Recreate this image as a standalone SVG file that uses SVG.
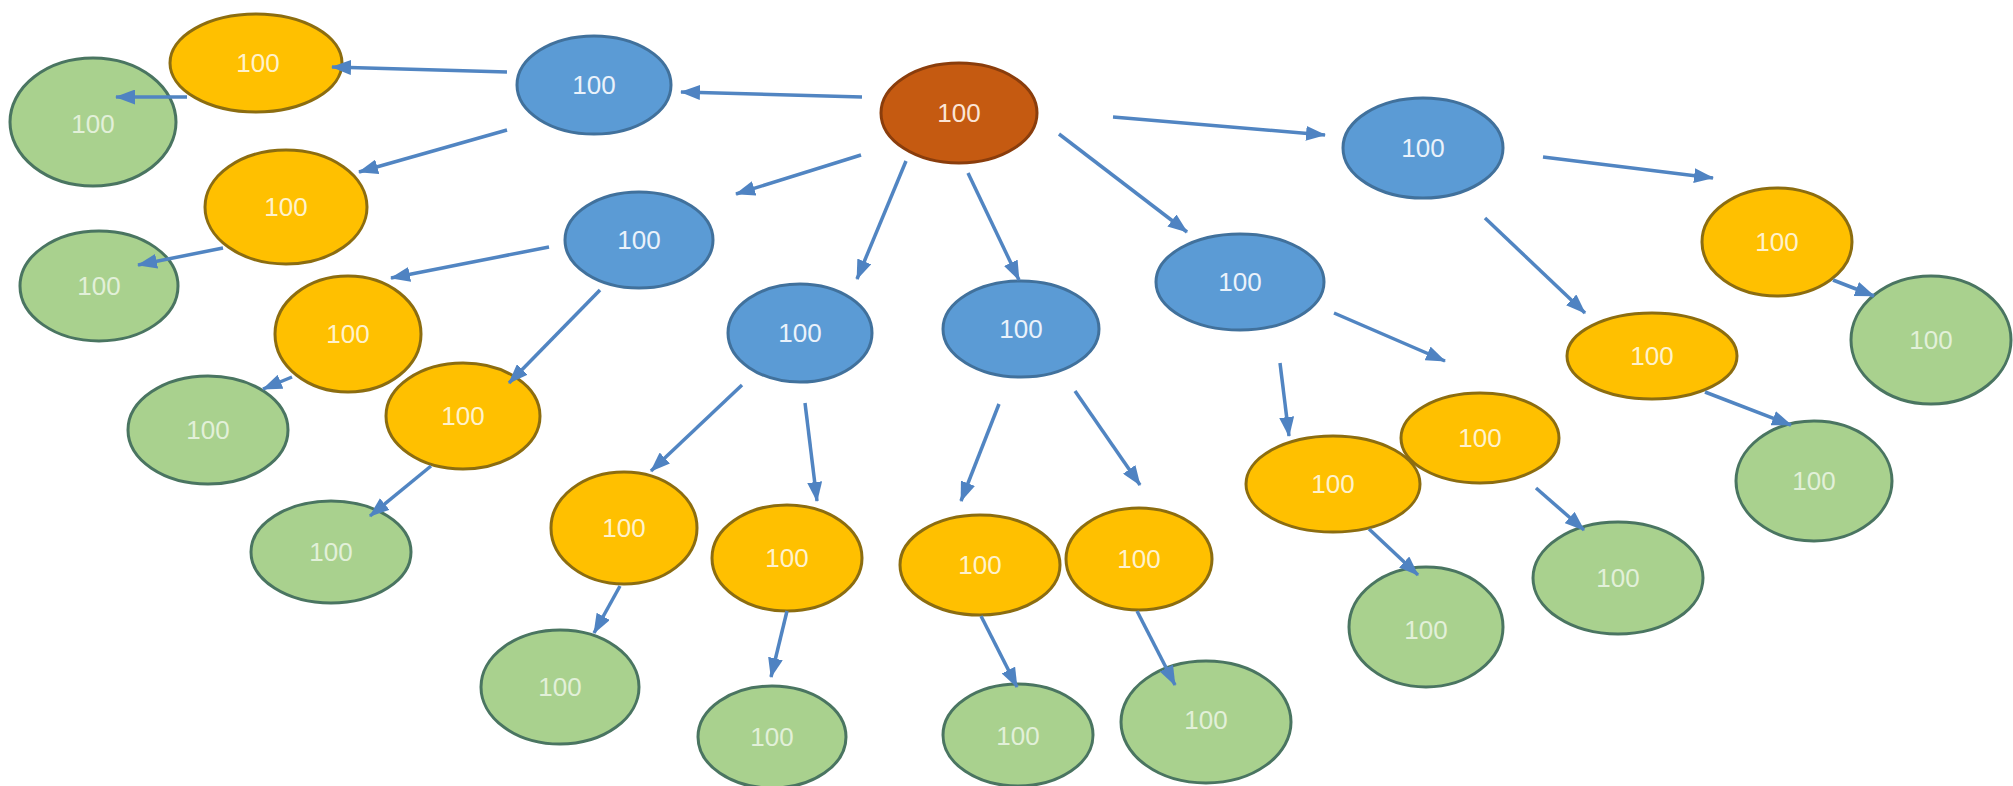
<svg xmlns="http://www.w3.org/2000/svg" width="2013" height="786" viewBox="0 0 2013 786">
<style>
.root ellipse{fill:#c55a11;stroke:#8a3d0c;stroke-width:3}
.blue ellipse{fill:#5b9bd5;stroke:#41719c;stroke-width:3}
.orange ellipse{fill:#ffc000;stroke:#8c6d10;stroke-width:3}
.green ellipse{fill:#a9d18e;stroke:#4a7561;stroke-width:3}
text{font-family:"Liberation Sans",Arial,sans-serif;font-size:26px;text-anchor:middle;dominant-baseline:central}
.root text{fill:#fbe5d6}
.blue text{fill:#eaf2fb}
.orange text{fill:#fff2cc}
.green text{fill:#e2f0d9}
.edges line{stroke:#5185c2;stroke-width:3.5;marker-end:url(#ah)}
</style>
<defs>
<marker id="ah" markerWidth="20" markerHeight="15" refX="19" refY="7.5" orient="auto" markerUnits="userSpaceOnUse">
<path d="M0,0 L20,7.5 L0,15 z" fill="#4f83c2"/>
</marker>
</defs>
<rect width="2013" height="786" fill="#ffffff"/>
<g id="nodes">
<g id="root" class="root"><ellipse cx="959" cy="113" rx="78" ry="50"/><text x="959" y="113">100</text></g>
<g id="b1" class="blue"><ellipse cx="594" cy="85" rx="77" ry="49"/><text x="594" y="85">100</text></g>
<g id="b2" class="blue"><ellipse cx="639" cy="240" rx="74" ry="48"/><text x="639" y="240">100</text></g>
<g id="b3" class="blue"><ellipse cx="800" cy="333" rx="72" ry="49"/><text x="800" y="333">100</text></g>
<g id="b4" class="blue"><ellipse cx="1021" cy="329" rx="78" ry="48"/><text x="1021" y="329">100</text></g>
<g id="b5" class="blue"><ellipse cx="1240" cy="282" rx="84" ry="48"/><text x="1240" y="282">100</text></g>
<g id="b6" class="blue"><ellipse cx="1423" cy="148" rx="80" ry="50"/><text x="1423" y="148">100</text></g>
<g id="o1" class="orange"><ellipse cx="256" cy="63" rx="86" ry="49"/><text x="258" y="63">100</text></g>
<g id="o2" class="orange"><ellipse cx="286" cy="207" rx="81" ry="57"/><text x="286" y="207">100</text></g>
<g id="o3" class="orange"><ellipse cx="348" cy="334" rx="73" ry="58"/><text x="348" y="334">100</text></g>
<g id="o4" class="orange"><ellipse cx="463" cy="416" rx="77" ry="53"/><text x="463" y="416">100</text></g>
<g id="o5" class="orange"><ellipse cx="624" cy="528" rx="73" ry="56"/><text x="624" y="528">100</text></g>
<g id="o6" class="orange"><ellipse cx="787" cy="558" rx="75" ry="53"/><text x="787" y="558">100</text></g>
<g id="o7" class="orange"><ellipse cx="980" cy="565" rx="80" ry="50"/><text x="980" y="565">100</text></g>
<g id="o8" class="orange"><ellipse cx="1139" cy="559" rx="73" ry="51"/><text x="1139" y="559">100</text></g>
<g id="o10" class="orange"><ellipse cx="1480" cy="438" rx="79" ry="45"/><text x="1480" y="438">100</text></g>
<g id="o9" class="orange"><ellipse cx="1333" cy="484" rx="87" ry="48"/><text x="1333" y="484">100</text></g>
<g id="o11" class="orange"><ellipse cx="1652" cy="356" rx="85" ry="43"/><text x="1652" y="356">100</text></g>
<g id="o12" class="orange"><ellipse cx="1777" cy="242" rx="75" ry="54"/><text x="1777" y="242">100</text></g>
<g id="g1" class="green"><ellipse cx="93" cy="122" rx="83" ry="64"/><text x="93" y="124">100</text></g>
<g id="g2" class="green"><ellipse cx="99" cy="286" rx="79" ry="55"/><text x="99" y="286">100</text></g>
<g id="g3" class="green"><ellipse cx="208" cy="430" rx="80" ry="54"/><text x="208" y="430">100</text></g>
<g id="g4" class="green"><ellipse cx="331" cy="552" rx="80" ry="51"/><text x="331" y="552">100</text></g>
<g id="g5" class="green"><ellipse cx="560" cy="687" rx="79" ry="57"/><text x="560" y="687">100</text></g>
<g id="g6" class="green"><ellipse cx="772" cy="737" rx="74" ry="51"/><text x="772" y="737">100</text></g>
<g id="g7" class="green"><ellipse cx="1018" cy="735" rx="75" ry="51"/><text x="1018" y="736">100</text></g>
<g id="g8" class="green"><ellipse cx="1206" cy="722" rx="85" ry="61"/><text x="1206" y="720">100</text></g>
<g id="g9" class="green"><ellipse cx="1426" cy="627" rx="77" ry="60"/><text x="1426" y="630">100</text></g>
<g id="g10" class="green"><ellipse cx="1618" cy="578" rx="85" ry="56"/><text x="1618" y="578">100</text></g>
<g id="g11" class="green"><ellipse cx="1814" cy="481" rx="78" ry="60"/><text x="1814" y="481">100</text></g>
<g id="g12" class="green"><ellipse cx="1931" cy="340" rx="80" ry="64"/><text x="1931" y="340">100</text></g>
</g>
<g id="connectors" class="edges">
<line x1="862" y1="97" x2="681" y2="92"/>
<line x1="861" y1="155" x2="736" y2="194"/>
<line x1="906" y1="161" x2="857" y2="279"/>
<line x1="968" y1="173" x2="1019" y2="280"/>
<line x1="1059" y1="134" x2="1187" y2="232"/>
<line x1="1113" y1="117" x2="1325" y2="135"/>
<line x1="507" y1="72" x2="332" y2="67"/>
<line x1="187" y1="97" x2="116" y2="97"/>
<line x1="507" y1="130" x2="359" y2="172"/>
<line x1="223" y1="248" x2="138" y2="265"/>
<line x1="549" y1="247" x2="391" y2="278"/>
<line x1="600" y1="290" x2="509" y2="383"/>
<line x1="292" y1="377" x2="263" y2="389"/>
<line x1="431" y1="466" x2="370" y2="516"/>
<line x1="742" y1="385" x2="651" y2="471"/>
<line x1="805" y1="403" x2="817" y2="501"/>
<line x1="620" y1="586" x2="594" y2="633"/>
<line x1="787" y1="611" x2="771" y2="677"/>
<line x1="999" y1="404" x2="961" y2="501"/>
<line x1="1075" y1="391" x2="1140" y2="485"/>
<line x1="981" y1="616" x2="1017" y2="687"/>
<line x1="1137" y1="611" x2="1175" y2="685"/>
<line x1="1280" y1="363" x2="1289" y2="436"/>
<line x1="1334" y1="313" x2="1445" y2="361"/>
<line x1="1369" y1="529" x2="1418" y2="575"/>
<line x1="1536" y1="488" x2="1584" y2="530"/>
<line x1="1485" y1="218" x2="1585" y2="313"/>
<line x1="1543" y1="157" x2="1713" y2="178"/>
<line x1="1705" y1="392" x2="1791" y2="425"/>
<line x1="1833" y1="280" x2="1874" y2="296"/>
</g>
</svg>
